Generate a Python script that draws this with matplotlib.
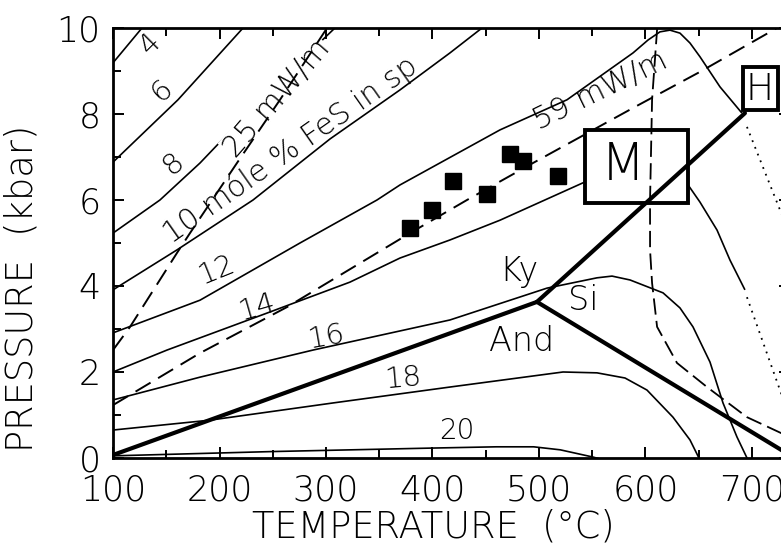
import matplotlib
matplotlib.use("Agg")
import matplotlib.pyplot as plt
from matplotlib.patches import Rectangle

plt.rcParams["font.family"] = "DejaVu Sans"
plt.rcParams["font.weight"] = "light"


# Isopleths, mole % FeS in sphalerite (T in deg C, P in kbar)
fes4_t = [100, 127.2]
fes4_p = [9.19, 10.0]
fes6_t = [100, 161.0, 222.1]
fes6_p = [6.88, 8.33, 10.0]
fes8_t = [100, 144.1, 181.7, 242.7, 308.4]
fes8_p = [5.23, 6.0, 6.86, 8.44, 10.0]
fes10_t = [100, 160.1, 231.5, 303.8, 369.5, 416.4, 446.5]
fes10_p = [3.91, 4.84, 6.0, 7.42, 8.56, 9.42, 10.0]
fes12_t = [100, 181.7, 275.6, 347.9, 369.5, 463.4, 526.3, 588.3, 602.4, 613.6,
           623.0, 632.4, 641.8, 651.2, 670.0, 690.6]
fes12_p = [2.91, 3.67, 5.0, 6.0, 6.35, 7.63, 8.33, 9.42, 9.72, 9.91,
           9.95, 9.88, 9.65, 9.33, 8.63, 8.02]
fes12_dot_t = [695.3, 726.3, 735.7]
fes12_dot_p = [7.70, 5.77, 5.19]
fes14_t = [100, 150.7, 244.6, 322.5, 369.5, 416.4, 463.4, 543.2,
           640.0, 651.2, 667.2, 679.4, 693.4]
fes14_p = [2.0, 2.51, 3.37, 4.09, 4.65, 5.07, 5.53, 6.42,
           6.35, 5.95, 5.30, 4.60, 3.91]
fes14_dot_t = [695.3, 726.3, 735.7]
fes14_dot_p = [3.74, 1.58, 0.93]
fes16_t = [100, 181.7, 287.8, 416.4, 507.5, 554.5, 568.6, 585.5, 616.5, 632.4,
           644.6, 660.6, 672.8, 685.9, 696.3]
fes16_p = [1.35, 1.88, 2.51, 3.21, 3.95, 4.19, 4.23, 4.14, 3.84, 3.49,
           3.05, 2.23, 1.28, 0.49, -0.05]
fes18_t = [100, 191.1, 306.6, 416.4, 522.6, 554.5, 580.8, 601.4, 625.8, 641.8, 651.2]
fes18_p = [0.65, 0.88, 1.28, 1.65, 2.0, 1.98, 1.86, 1.58, 0.95, 0.42, -0.05]
fes20_t = [100, 250, 398, 460, 495, 520, 551, 567]
fes20_p = [0.05, 0.15, 0.23, 0.26, 0.26, 0.19, 0.02, -0.09]

# Al2SiO5 triple point and reactions
ky_and_t = [100, 498.1]
ky_and_p = [0.07, 3.63]
ky_sil_t = [498.1, 693.4]
ky_sil_p = [3.63, 8.02]
and_sil_t = [498.1, 740]
and_sil_p = [3.63, 0.0]

# Geotherms (dashed)
g25_t = [100, 116.0, 160.1, 172.3, 216.4, 256.8, 301.0]
g25_p = [2.51, 3.05, 4.77, 5.23, 6.86, 8.33, 10.0]
g59_t = [100, 181.7, 263.4, 378.9, 432.4, 494.4, 588.3, 651.2, 723.5]
g59_p = [1.23, 2.44, 3.51, 5.23, 6.0, 6.86, 8.14, 8.98, 10.0]

# steep dashed reaction near 600 C
rx_t = [611.0, 606.2, 604.3, 604.3, 606.2, 610.9, 629.6, 657.8, 695.3, 727.3, 735.7]
rx_p = [10.0, 8.33, 6.0, 4.84, 4.07, 3.05, 2.21, 1.65, 0.95, 0.58, 0.49]

# samples
sq_t = [378.9, 399.5, 419.3, 451.2, 472.8, 485.0, 517.9]
sq_p = [5.35, 5.77, 6.44, 6.14, 7.07, 6.91, 6.56]

x_ticks = [100, 200, 300, 400, 500, 600, 700]
y_ticks = [0, 2, 4, 6, 8, 10]


fig = plt.figure(figsize=(7.81, 5.53), dpi=100)
ax = fig.add_axes([0.1447, 0.1718, 0.8668, 0.7776])

thin = dict(color="black", lw=1.2, zorder=2, solid_capstyle="butt")
for t, p in [(fes4_t, fes4_p), (fes6_t, fes6_p), (fes8_t, fes8_p),
             (fes10_t, fes10_p), (fes12_t, fes12_p), (fes14_t, fes14_p),
             (fes16_t, fes16_p), (fes18_t, fes18_p), (fes20_t, fes20_p)]:
    ax.plot(t, p, **thin)

ax.plot(fes12_dot_t, fes12_dot_p, color="black", lw=1.3, ls=(0, (1, 3)), zorder=2)
ax.plot(fes14_dot_t, fes14_dot_p, color="black", lw=1.3, ls=(0, (1, 3)), zorder=2)

ax.plot(g25_t, g25_p, color="black", lw=1.4, ls=(0, (9, 4.5)), zorder=4)
ax.plot(g59_t, g59_p, color="black", lw=1.4, ls=(0, (9, 4.5)), zorder=2)
ax.plot(rx_t, rx_p, color="black", lw=1.3, ls=(0, (9, 3.5)), zorder=4)

for t, p in [(ky_and_t, ky_and_p), (ky_sil_t, ky_sil_p), (and_sil_t, and_sil_p)]:
    ax.plot(t, p, color="black", lw=3.0, zorder=4, solid_capstyle="round")

ax.plot(sq_t, sq_p, ls="none", marker="s", ms=11.5, color="black", zorder=5)

# M and H boxes
ax.add_patch(Rectangle((543.2, 5.93), 96.7, 1.70, fc="white", ec="black", lw=2.8, zorder=3))
ax.add_patch(Rectangle((691.6, 8.09), 32.9, 1.00, fc="white", ec="black", lw=2.8, zorder=3))
ax.text(578.9, 6.79, "M", fontsize=37, ha="center", va="center", zorder=6)
ax.text(707.5, 8.58, "H", fontsize=27, ha="center", va="center", zorder=6)

lab = dict(ha="center", va="center", rotation_mode="anchor", zorder=6)
ax.text(134.7, 9.63, "4", fontsize=20, rotation=45, **lab)
ax.text(146.0, 8.53, "6", fontsize=21, rotation=42, **lab)
ax.text(156.3, 6.84, "8", fontsize=21, rotation=40, **lab)
ax.text(266.5, 7.18, "10 móle % FeS in sp", fontsize=21.5, rotation=35, **lab)
ax.text(254.0, 8.37, "25 mW/m", fontsize=21.5, rotation=49,
        bbox=dict(fc="white", ec="none", pad=0.5), ha="center", va="center",
        rotation_mode="anchor", zorder=3)
ax.text(557.3, 8.53, "59 mW/m", fontsize=21.5, rotation=26, **lab)
ax.text(197.7, 4.37, "12", fontsize=21, rotation=22, **lab)
ax.text(235.2, 3.51, "14", fontsize=21, rotation=16, **lab)
ax.text(301.0, 2.81, "16", fontsize=21, rotation=10, **lab)
ax.text(372.3, 1.86, "18", fontsize=21, rotation=5, **lab)
ax.text(423.0, 0.63, "20", fontsize=20, **lab)
ax.text(481.2, 4.33, "Ky", fontsize=24, **lab)
ax.text(541.3, 3.67, "Si", fontsize=24, **lab)
ax.text(484.0, 2.72, "And", fontsize=24, **lab)

ax.set_xlim(100, 735.7)
ax.set_ylim(0, 10)
ax.set_xticks(x_ticks)
ax.set_xticks([150, 250, 350, 450, 550, 650], minor=True)
ax.set_yticks(y_ticks)
ax.set_yticks([1, 3, 5, 7, 9], minor=True)
ax.tick_params(which="both", direction="in", top=True, right=True, width=1.4)
ax.tick_params(which="major", length=8, labelsize=25)
ax.tick_params(axis="x", which="major", pad=11)
ax.tick_params(axis="y", which="major", pad=9)
ax.tick_params(which="minor", length=6)
for s in ax.spines.values():
    s.set_linewidth(2.0)

fig.text(433 / 781, 1 - 527 / 553, "TEMPERATURE  (°C)", fontsize=26.5,
         ha="center", va="center")
fig.text(22 / 781, 1 - 288 / 553, "PRESSURE  (kbar)", fontsize=26.5,
         ha="center", va="center", rotation=90)

fig.savefig("out.png", dpi=100)
